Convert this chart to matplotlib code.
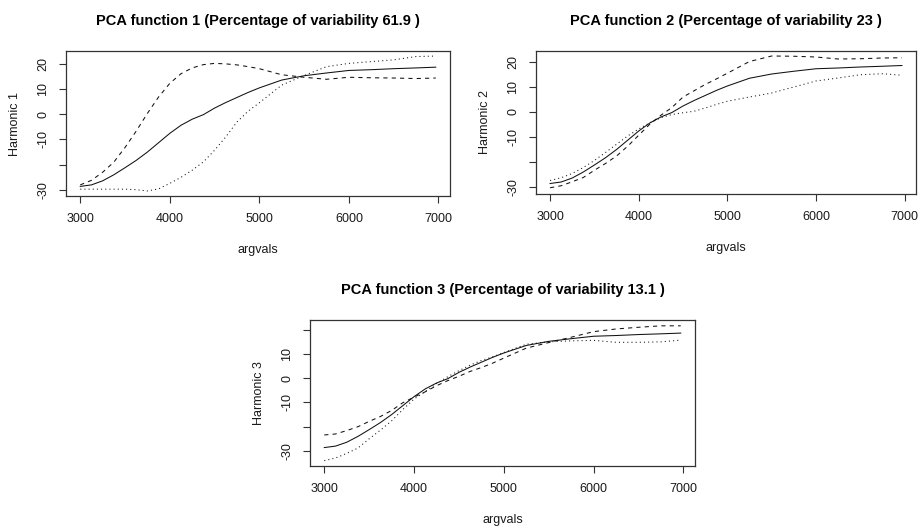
import matplotlib
matplotlib.use("Agg")
import matplotlib.pyplot as plt

plt.rcParams["font.family"] = ["Liberation Sans", "DejaVu Sans"]

# Evaluation grid (argvals)
argvals = [3000, 3125, 3250, 3375, 3500, 3625, 3750, 3875, 4000, 4125,
           4250, 4375, 4500, 4625, 4750, 4875, 5000, 5250, 5500, 5750,
           6000, 6250, 6500, 6750, 6970]

# Mean function (same in all panels)
mean_fn = [-28.6, -28.0, -26.4, -24.0, -21.2, -18.3, -15.0, -11.3, -7.6, -4.4,
           -2.0, -0.2, 2.4, 4.6, 6.6, 8.6, 10.4, 13.5, 15.2, 16.3,
           17.3, 17.6, 18.0, 18.3, 18.6]

# Mean + multiple of each harmonic (dashed)
plus_h1 = [-28.0, -26.2, -23.0, -19.0, -13.2, -6.7, 0.3, 6.8, 12.2, 16.0,
           18.3, 19.6, 20.1, 19.9, 19.5, 18.8, 18.0, 15.6, 14.6, 13.8,
           14.6, 14.4, 14.3, 14.1, 14.3]
plus_h2 = [-30.3, -29.5, -27.9, -26.2, -23.3, -20.6, -17.6, -13.7, -9.3, -4.9,
           -1.3, 1.8, 6.0, 8.5, 11.0, 13.2, 15.5, 20.2, 22.4, 22.3,
           22.0, 21.2, 21.3, 21.6, 21.7]
plus_h3 = [-23.4, -23.0, -21.6, -20.0, -17.8, -15.8, -13.3, -10.1, -7.8, -5.6,
           -3.1, -1.0, 0.8, 2.8, 4.4, 6.2, 8.3, 12.4, 14.7, 16.9,
           19.2, 20.3, 21.0, 21.6, 21.6]

# Mean - multiple of each harmonic (dotted)
minus_h1 = [-29.7, -29.7, -29.7, -29.7, -29.7, -29.9, -30.4, -29.6, -27.4, -25.0,
            -22.2, -18.9, -14.3, -9.0, -3.1, 1.2, 4.5, 11.5, 15.3, 18.8,
            20.1, 20.8, 21.5, 22.8, 23.0]
minus_h2 = [-27.4, -26.3, -24.6, -22.2, -19.4, -16.2, -12.9, -9.6, -6.8, -4.3,
            -2.3, -1.0, -0.3, 0.3, 1.6, 3.0, 4.3, 6.0, 7.6, 10.0,
            12.4, 13.6, 14.9, 15.3, 14.7]
minus_h3 = [-34.0, -32.9, -31.0, -28.8, -25.0, -21.4, -17.6, -12.9, -8.6, -5.5,
            -2.2, 0.6, 3.1, 5.4, 7.3, 8.8, 10.6, 14.0, 15.0, 15.4,
            15.6, 14.8, 14.8, 15.0, 15.7]

variability = ["61.9", "23", "13.1"]
harmonic_names = ["Harmonic 1", "Harmonic 2", "Harmonic 3"]
x_ticks = [3000, 4000, 5000, 6000, 7000]
y_ticks = [-30, -20, -10, 0, 10, 20]
y_labels = [["-30", "", "-10", "0", "10", "20"],
            ["-30", "", "-10", "0", "10", "20"],
            ["-30", "", "-10", "0", "10", ""]]

panels = [
    dict(rect=[66/920, 1-196/526, 384/920, 145/526], ylim=(-32.4, 25.0),
         plus=plus_h1, minus=minus_h1),
    dict(rect=[536/920, 1-194/526, 380/920, 143/526], ylim=(-32.8, 24.4),
         plus=plus_h2, minus=minus_h2),
    dict(rect=[310/920, 1-466/526, 385/920, 146/526], ylim=(-36.2, 24.0),
         plus=plus_h3, minus=minus_h3),
]

fig = plt.figure(figsize=(9.2, 5.26), dpi=100)
txt = "#1a1a1a"

for i, p in enumerate(panels):
    ax = fig.add_axes(p["rect"])
    ax.plot(argvals, mean_fn, color="#111111", lw=0.75)
    ax.plot(argvals, p["plus"], color="#111111", lw=0.75, dashes=(4, 4))
    ax.plot(argvals, p["minus"], color="#111111", lw=0.75, dashes=(1, 3))
    ax.set_xlim(2841, 7129)
    ax.set_ylim(*p["ylim"])
    ax.set_xticks(x_ticks)
    ax.set_xticklabels([str(t) for t in x_ticks])
    ax.set_yticks(y_ticks)
    ax.set_yticklabels(y_labels[i], rotation=90, va="center")
    ax.tick_params(direction="out", length=5, width=0.8, colors="#333333",
                   labelcolor=txt, labelsize=9, pad=7)
    for s in ax.spines.values():
        s.set_linewidth(0.9)
        s.set_color("#333333")
    ax.set_xlabel("argvals", fontsize=9, color=txt, labelpad=14)
    ax.set_ylabel(harmonic_names[i], fontsize=9, color=txt, labelpad=12)
    ax.set_title(f"PCA function {i+1} (Percentage of variability {variability[i]} )",
                 fontsize=10.5, fontweight="bold", color="black", pad=18.5)

fig.savefig("out.png", dpi=100)
